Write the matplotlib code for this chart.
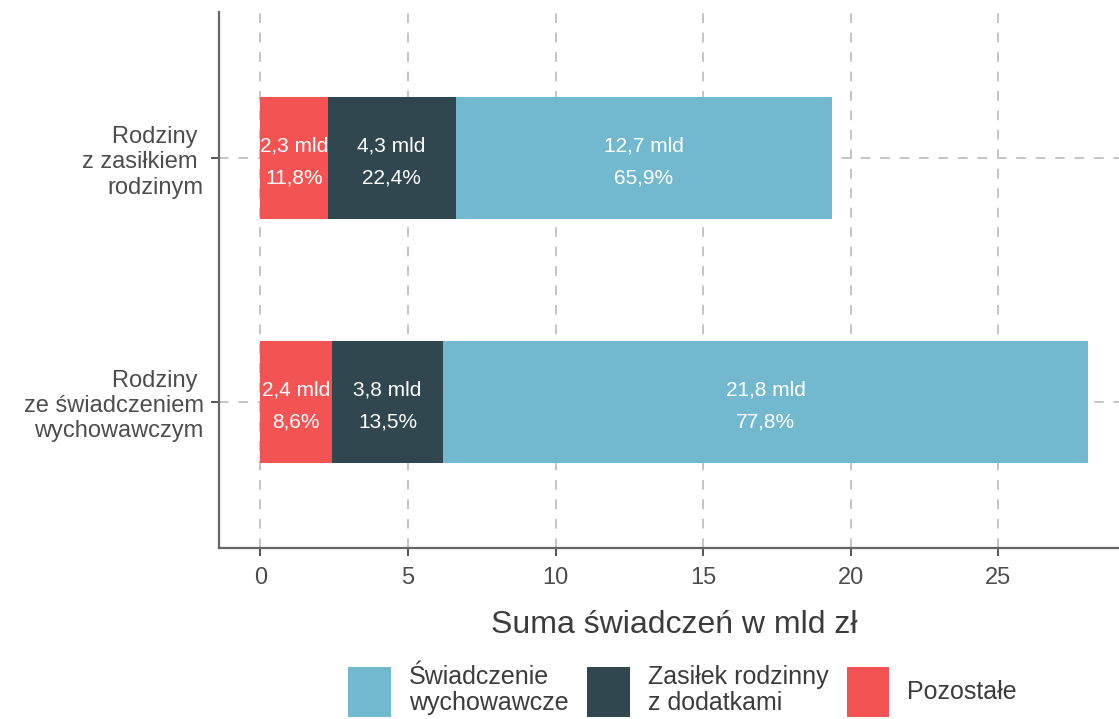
import matplotlib
matplotlib.use("Agg")
import matplotlib.pyplot as plt
from matplotlib.patches import Patch

plt.rcParams["font.family"] = ["Liberation Sans", "DejaVu Sans"]

# data (bottom category first)
categories = ["Rodziny \nze świadczeniem\nwychowawczym", "Rodziny \nz zasiłkiem \nrodzinym"]
components = ["Pozostałe", "Zasiłek rodzinny\nz dodatkami", "Świadczenie\nwychowawcze"]
pozostale = [2.41, 2.28]
zasilek = [3.79, 4.33]
swiadczenie = [21.82, 12.74]
pct_pozostale = [8.6, 11.8]
pct_zasilek = [13.5, 22.4]
pct_swiadczenie = [77.8, 65.9]

colors = ["#F45353", "#30474F", "#72B9CF"]
grid_col = "#c4c4c4"
text_col = "#4d4d4d"

fig = plt.figure(figsize=(11.19, 7.19), dpi=100)
# panel runs slightly past the right edge, as in the original export
ax = fig.add_axes([0.1957, 0.2378, 0.8132, 0.7455])

ypos = list(range(1, len(categories) + 1))
series = [pozostale, zasilek, swiadczenie]
pcts = [pct_pozostale, pct_zasilek, pct_swiadczenie]
left = [0.0] * len(categories)
for vals, pc, col in zip(series, pcts, colors):
    ax.barh(ypos, vals, left=left, height=0.5, color=col, zorder=2)
    for y, v, l, p in zip(ypos, vals, left, pc):
        lab = f"{v:.1f} mld".replace(".", ",") + "\n" + f"{p:.1f}%".replace(".", ",")
        ax.annotate(lab, (l + v / 2, y), xytext=(0, -3), textcoords="offset points",
                    ha="center", va="center", color="white",
                    fontsize=15, linespacing=1.85, zorder=3)
    left = [a + b for a, b in zip(left, vals)]

total = max(left)
ax.set_xlim(-0.05 * total, 1.05 * total)
ax.set_ylim(0.4, len(categories) + 0.6)

ax.set_xticks([0, 5, 10, 15, 20, 25])
ax.set_yticks(ypos)
ax.set_yticklabels(categories, ha="right", multialignment="right", linespacing=1.2)

ax.set_axisbelow(True)
ax.grid(True, color=grid_col, linestyle=(0, (5, 5)), linewidth=1.4)

for s in ["top", "right"]:
    ax.spines[s].set_visible(False)
for s in ["left", "bottom"]:
    ax.spines[s].set_color("#666666")
    ax.spines[s].set_linewidth(1.6)

ax.tick_params(axis="both", colors="#555555", labelcolor=text_col,
               labelsize=17, length=6, width=1.4)
ax.tick_params(axis="x", pad=8)
ax.tick_params(axis="y", pad=5)

ax.set_xlabel("Suma świadczeń w mld zł", fontsize=23, color="#3c3c3c", labelpad=15)

handles = [Patch(facecolor=c, edgecolor="none") for c in colors[::-1]]
leg = fig.legend(handles, components[::-1], loc="lower center",
                 bbox_to_anchor=(0.61, -0.014), ncol=3, frameon=False, fontsize=18,
                 handlelength=1.7, handleheight=2.7, handletextpad=0.72,
                 columnspacing=0.75, borderpad=0, labelcolor="#3c3c3c")
for t in leg.get_texts():
    t.set_linespacing(1.1)

fig.savefig("out.png", dpi=100)
